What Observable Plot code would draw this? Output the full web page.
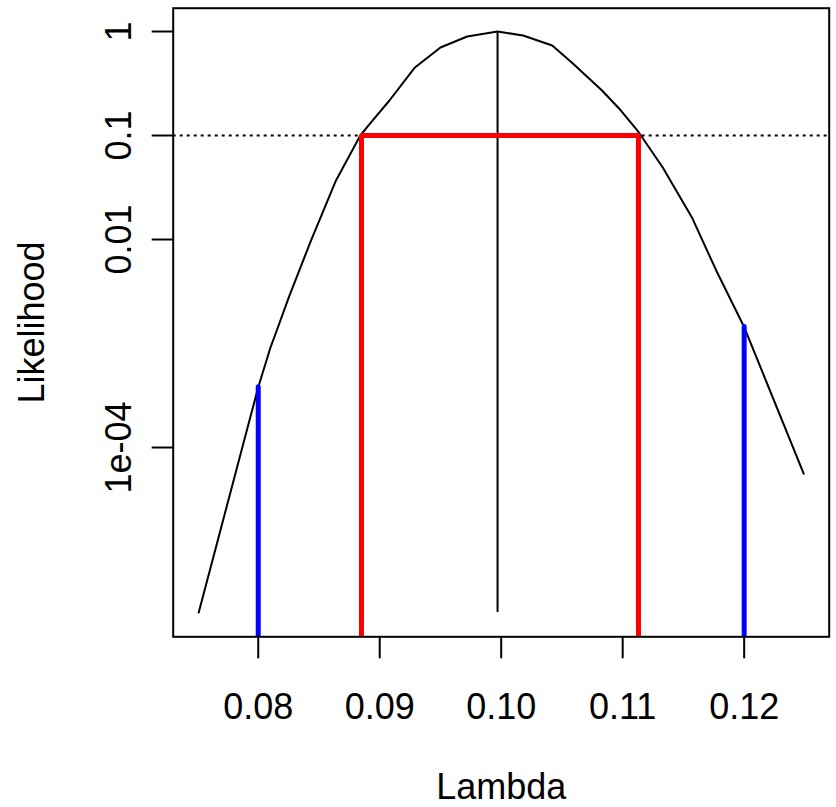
<!DOCTYPE html>
<html>
<head>
<meta charset="utf-8">
<script src="https://cdn.jsdelivr.net/npm/d3@7"></script>
<script src="https://cdn.jsdelivr.net/npm/@observablehq/plot@0.6"></script>
<style>
  html, body { margin: 0; padding: 0; background: #fff; overflow: hidden; }
  #chart svg { display: block; }
</style>
</head>
<body>
<div id="chart"></div>
<script>
// Likelihood curve
const lambda = [0.0751, 0.0800, 0.0810, 0.0816, 0.0825, 0.0843, 0.0864, 0.0884, 0.0892, 0.0908,
                0.0929, 0.0950, 0.0972, 0.0997, 0.1018, 0.1042, 0.1059, 0.1083, 0.1097, 0.1112,
                0.1115, 0.1133, 0.1157, 0.1177, 0.1200, 0.1249];
const likelihood = [2.59e-6, 3.80e-4, 9.1e-4, 1.41e-3, 2.75e-3, 9.5e-3, 0.037, 0.100, 0.130, 0.217,
                    0.451, 0.701, 0.895, 1.0, 0.916, 0.733, 0.492, 0.271, 0.182, 0.112,
                    0.100, 0.0492, 0.0163, 5.04e-3, 1.44e-3, 5.6e-5];

const mle = 0.0997;
const cutoff = 0.1;
const intervalLambda = [0.0885, 0.1113];
const boundLambda = [0.08, 0.12];
const boundLikelihood = [3.8e-4, 1.44e-3];

const xTicks = [0.08, 0.09, 0.10, 0.11, 0.12];
const xTickLabels = ["0.08", "0.09", "0.10", "0.11", "0.12"];
const yTicks = [1, 0.1, 0.01, 1e-4];
const yTickLabels = ["1", "0.1", "0.01", "1e-04"];
const xLabel = "Lambda";
const yLabel = "Likelihood";

// scale extents (R-style 4% padding)
const xDomain = [0.073, 0.127];
const yDomain = [Math.pow(10, -5.82), Math.pow(10, 0.224)];

const curve = lambda.map((l, i) => ({lambda: l, L: likelihood[i]}));
const bounds = boundLambda.map((l, i) => ({lambda: l, L: boundLikelihood[i]}));
const redPath = [
  {x: intervalLambda[0], y: yDomain[0]},
  {x: intervalLambda[0], y: cutoff},
  {x: intervalLambda[1], y: cutoff},
  {x: intervalLambda[1], y: yDomain[0]}
];

const fontFamily = "'Liberation Sans', Arial, Helvetica, sans-serif";

const chart = Plot.plot({
  width: 836,
  height: 807,
  marginLeft: 172.7,
  marginRight: 7.3,
  marginTop: 7.7,
  marginBottom: 170.7,
  style: {fontFamily, fontSize: "36px", background: "#fff", color: "#000"},
  x: {domain: xDomain},
  y: {type: "log", domain: yDomain},
  marks: [
    Plot.ruleY([cutoff], {stroke: "black", strokeWidth: 2, strokeDasharray: "3,4"}),
    Plot.line(curve, {x: "lambda", y: "L", stroke: "black", strokeWidth: 2}),
    Plot.ruleX([mle], {y1: d3.min(likelihood), y2: d3.max(likelihood), stroke: "black", strokeWidth: 2}),
    Plot.line(redPath, {x: "x", y: "y", stroke: "#FF0000", strokeWidth: 5, strokeLinejoin: "miter", strokeLinecap: "butt"}),
    Plot.ruleX(bounds, {x: "lambda", y1: yDomain[0], y2: "L", stroke: "#0000FF", strokeWidth: 5, strokeLinecap: "round", clip: true}),
    Plot.frame({stroke: "black", strokeWidth: 2}),
    Plot.axisX(xTicks, {
      tickSize: 22, tickPadding: 35, strokeWidth: 2, fontSize: 36, label: null,
      tickFormat: d => xTickLabels[xTicks.indexOf(d)]
    }),
    Plot.axisY(yTicks, {
      tickSize: 21, strokeWidth: 2, label: null, tickFormat: () => ""
    }),
    Plot.text(yTicks, {
      y: d => d, text: d => yTickLabels[yTicks.indexOf(d)],
      frameAnchor: "left", dx: -42.7, rotate: -90,
      textAnchor: "middle", lineAnchor: "bottom", fontSize: 36, fill: "black"
    }),
    Plot.text([yLabel], {
      text: d => d, frameAnchor: "left", dx: -129.7, rotate: -90,
      textAnchor: "middle", lineAnchor: "bottom", fontSize: 36, fill: "black"
    }),
    Plot.text([xLabel], {
      text: d => d, frameAnchor: "bottom", dy: 162.5,
      textAnchor: "middle", lineAnchor: "bottom", fontSize: 36, fill: "black"
    })
  ]
});

document.getElementById("chart").appendChild(chart);
</script>
</body>
</html>
